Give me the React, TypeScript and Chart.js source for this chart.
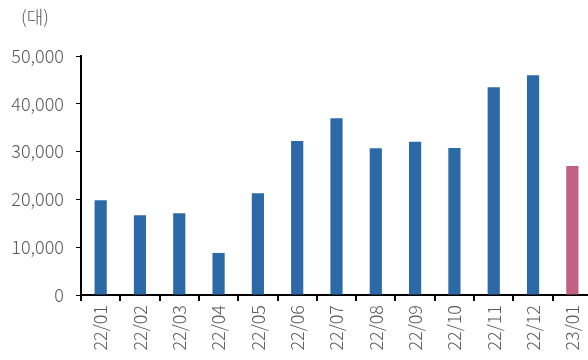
import React, { useEffect, useRef } from "react";
import { Chart, registerables } from "chart.js";

Chart.register(...registerables);

const categories = ["22/01", "22/02", "22/03", "22/04", "22/05", "22/06", "22/07", "22/08", "22/09", "22/10", "22/11", "22/12", "23/01"];
const values = [19800, 16700, 17100, 8800, 21300, 32200, 37000, 30700, 32050, 30750, 43450, 45950, 27000];
const barColors = ["#2B6AA6", "#2B6AA6", "#2B6AA6", "#2B6AA6", "#2B6AA6", "#2B6AA6", "#2B6AA6", "#2B6AA6", "#2B6AA6", "#2B6AA6", "#2B6AA6", "#2B6AA6", "#C06085"];
const unitLabel = "(대)";

const FONT = "'Noto Sans CJK KR', 'Noto Sans', sans-serif";

export default function App() {
  const ref = useRef<HTMLCanvasElement | null>(null);
  useEffect(() => {
    document.body.style.margin = "0";
    const unitPlugin = {
      id: "unitLabel",
      afterDraw(chart: any) {
        const ctx = chart.ctx;
        ctx.save();
        ctx.font = `300 18px ${FONT}`;
        ctx.fillStyle = "#595959";
        ctx.textAlign = "left";
        ctx.textBaseline = "middle";
        ctx.fillText(unitLabel, 21, 17);
        ctx.restore();
      },
    };
    const chart = new Chart(ref.current!, {
      type: "bar",
      data: {
        labels: categories,
        datasets: [
          {
            data: values,
            backgroundColor: barColors,
            barPercentage: 0.31,
            categoryPercentage: 1,
          },
        ],
      },
      options: {
        animation: false,
        responsive: false,
        layout: { padding: { top: 56, right: 0, left: 0, bottom: 0 } },
        plugins: { legend: { display: false }, tooltip: { enabled: false } },
        scales: {
          x: {
            grid: { display: true, drawOnChartArea: false, drawTicks: true, tickLength: 6, color: "#000", offset: true, lineWidth: 2 },
            border: { display: true, color: "#000", width: 2 },
            ticks: { maxRotation: 90, minRotation: 90, color: "#595959", font: { family: FONT, size: 18, weight: "300" }, padding: 4, autoSkip: false },
            afterFit(scale: any) { scale.height = 65; scale.paddingRight = 0; scale.paddingLeft = 0; },
          },
          y: {
            min: 0,
            max: 50000,
            grid: { display: true, drawOnChartArea: false, drawTicks: true, tickLength: 5, color: "#000", lineWidth: 1 },
            border: { display: true, color: "#000", width: 2 },
            ticks: {
              stepSize: 10000,
              color: "#595959",
              font: { family: FONT, size: 18, weight: "300" },
              padding: 12,
              callback: (v: any) => Number(v).toLocaleString("en-US"),
            },
            afterFit(scale: any) { scale.width = 81; },
          },
        },
      },
      plugins: [unitPlugin],
    });
    return () => chart.destroy();
  }, []);
  return (
    <div style={{ position: "absolute", left: 0, top: 0, width: 588, height: 360, overflow: "hidden" }}>
      <canvas ref={ref} width={592} height={360} style={{ width: 592, height: 360 }} />
    </div>
  );
}
